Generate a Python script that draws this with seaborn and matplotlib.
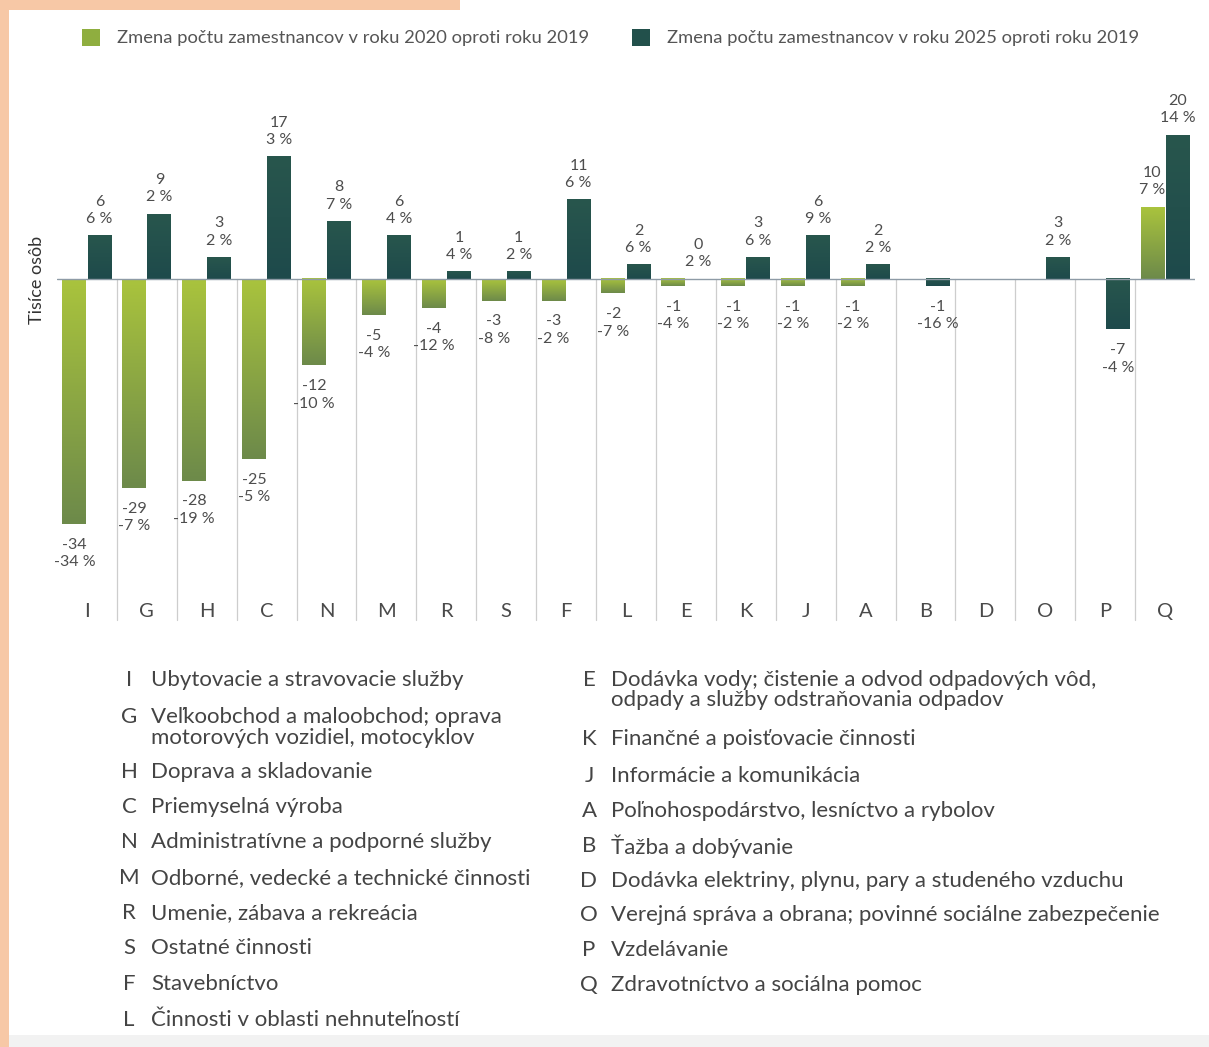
import numpy as np
import pandas as pd
import matplotlib
matplotlib.use("Agg")
import matplotlib.pyplot as plt
import seaborn as sns
from matplotlib.colors import LinearSegmentedColormap, to_hex
from matplotlib.patches import Rectangle

# ---- data -------------------------------------------------------------
kody = ["I", "G", "H", "C", "N", "M", "R", "S", "F", "L",
        "E", "K", "J", "A", "B", "D", "O", "P", "Q"]
zmena_2020 = [-34, -29, -28, -25, -12, -5, -4, -3, -3, -2,
              -1, -1, -1, -1, None, None, None, None, 10]
pct_2020 = [-34, -7, -19, -5, -10, -4, -12, -8, -2, -7,
            -4, -2, -2, -2, None, None, None, None, 7]
zmena_2025 = [6, 9, 3, 17, 8, 6, 1, 1, 11, 2,
              0, 3, 6, 2, -1, None, 3, -7, 20]
pct_2025 = [6, 2, 2, 3, 7, 4, 4, 2, 6, 6,
            2, 6, 9, 2, -16, None, 2, -4, 14]

serie = ["Zmena počtu zamestnancov v roku 2020 oproti roku 2019",
         "Zmena počtu zamestnancov v roku 2025 oproti roku 2019"]

popisy_vlavo = [
    ("I", ["Ubytovacie a stravovacie služby"]),
    ("G", ["Veľkoobchod a maloobchod; oprava", "motorových vozidiel, motocyklov"]),
    ("H", ["Doprava a skladovanie"]),
    ("C", ["Priemyselná výroba"]),
    ("N", ["Administratívne a podporné služby"]),
    ("M", ["Odborné, vedecké a technické činnosti"]),
    ("R", ["Umenie, zábava a rekreácia"]),
    ("S", ["Ostatné činnosti"]),
    ("F", ["Stavebníctvo"]),
    ("L", ["Činnosti v oblasti nehnuteľností"]),
]
popisy_vpravo = [
    ("E", ["Dodávka vody; čistenie a odvod odpadových vôd,", "odpady a služby odstraňovania odpadov"]),
    ("K", ["Finančné a poisťovacie činnosti"]),
    ("J", ["Informácie a komunikácia"]),
    ("A", ["Poľnohospodárstvo, lesníctvo a rybolov"]),
    ("B", ["Ťažba a dobývanie"]),
    ("D", ["Dodávka elektriny, plynu, pary a studeného vzduchu"]),
    ("O", ["Verejná správa a obrana; povinné sociálne zabezpečenie"]),
    ("P", ["Vzdelávanie"]),
    ("Q", ["Zdravotníctvo a sociálna pomoc"]),
]

# ---- style ------------------------------------------------------------
sns.set_theme(style="white")
plt.rcParams["font.family"] = ["Lato", "DejaVu Sans"]

ZELENA = "#8fae3f"
TMAVA = "#22504b"
TEXT = "#4d4d4d"
zelena_cmap = LinearSegmentedColormap.from_list("zel", ["#6d8a4a", "#a9c33d"])
tmava_cmap = LinearSegmentedColormap.from_list("tma", ["#1e4a4b", "#28564d"])

W, H = 1209, 1047
fig = plt.figure(figsize=(W / 100, H / 100), dpi=100)
fig.patch.set_facecolor("white")

# page background: peach edge, light band at the bottom
fig.patches.append(Rectangle((0, 0), 9 / W, 1, transform=fig.transFigure,
                             facecolor="#f7c8a6", edgecolor="none", zorder=-10))
fig.patches.append(Rectangle((0, 1 - 10 / H), 460 / W, 10 / H, transform=fig.transFigure,
                             facecolor="#f7c8a6", edgecolor="none", zorder=-10))
fig.patches.append(Rectangle((9 / W, 0), 1, 12 / H, transform=fig.transFigure,
                             facecolor="#f2f2f2", edgecolor="none", zorder=-10))

# ---- axes -------------------------------------------------------------
px_top, px_bot, px_zero = 95, 595, 279
unit = 7.2  # pixels per thousand persons
ax = fig.add_axes([57 / W, 1 - px_bot / H, (1195 - 57) / W, (px_bot - px_top) / H])
ax.set_facecolor("none")

rows = []
for k, a, b in zip(kody, zmena_2020, zmena_2025):
    if a is not None:
        rows.append((k, serie[0], a))
    if b is not None:
        rows.append((k, serie[1], b))
df = pd.DataFrame(rows, columns=["kod", "rok", "hodnota"])

sns.barplot(data=df, x="kod", y="hodnota", hue="rok", order=kody, hue_order=serie,
            palette=[ZELENA, TMAVA], saturation=1, width=0.84, gap=0.05,
            legend=False, ax=ax, zorder=3)

ylim = (-(px_bot - px_zero) / unit, (px_zero - px_top) / unit)
xlim = (-0.5, len(kody) - 0.5)

# gradient fill for each bar
for p in list(ax.patches):
    h = p.get_height()
    if h == 0 or np.isnan(h):
        continue
    x0 = p.get_x()
    x1 = x0 + p.get_width()
    y0, y1 = sorted([p.get_y(), p.get_y() + h])
    is_green = to_hex(p.get_facecolor()) == to_hex(ZELENA)
    cmap = zelena_cmap if is_green else tmava_cmap
    grad = np.linspace(1, 0, 64).reshape(-1, 1)
    ax.imshow(grad, extent=[x0, x1, y0, y1], origin="upper", aspect="auto",
              cmap=cmap, zorder=3, interpolation="bilinear")
    p.set_alpha(0)

ax.set_xlim(*xlim)
ax.set_ylim(*ylim)

# value labels: absolute change and relative change
dx = 0.21
for i, k in enumerate(kody):
    for off, v, pc in ((-dx, zmena_2020[i], pct_2020[i]), (dx, zmena_2025[i], pct_2025[i])):
        if v is None:
            continue
        txt = f"{v}\n{pc} %"
        if v >= 0:
            ax.annotate(txt, (i + off, v), xytext=(0, 7), textcoords="offset points",
                        ha="center", va="bottom", fontsize=11.5, color=TEXT,
                        linespacing=1.3, zorder=5)
        else:
            ax.annotate(txt, (i + off, v), xytext=(0, -10), textcoords="offset points",
                        ha="center", va="top", fontsize=11.5, color=TEXT,
                        linespacing=1.3, zorder=5)

# zero line and category separators
ax.axhline(0, color="#8e9ba6", lw=1.0, zorder=4)
y_zero_frac = (px_bot - px_zero) / (px_bot - px_top)
for j in range(len(kody) - 1):
    ax.axvline(j + 0.5, ymin=-0.05, ymax=y_zero_frac, color="#cdcdcd", lw=0.9,
               clip_on=False, zorder=1)

for s in ax.spines.values():
    s.set_visible(False)
ax.set_yticks([])
ax.set_xlabel("")
ax.set_ylabel("")
ax.tick_params(axis="x", length=0, pad=6, labelsize=14.5, labelcolor="#4a4a4a")

fig.text(37 / W, 1 - 280 / H, "Tisíce osôb", rotation=90, ha="center", va="center",
         fontsize=13, color="#333333")

# ---- series legend ----------------------------------------------------
for sx, tx, col, lab in ((82, 117, ZELENA, serie[0]), (632, 667, TMAVA, serie[1])):
    fig.patches.append(Rectangle((sx / W, 1 - 46 / H), 18 / W, 17 / H,
                                 transform=fig.transFigure, facecolor=col,
                                 edgecolor="none"))
    fig.text(tx / W, 1 - 38 / H, lab, ha="left", va="center", fontsize=13.2,
             color="#555555")

# ---- code key ---------------------------------------------------------
def kluc(polozky, x_kod, x_txt, riadky):
    for (kod, linky), ys in zip(polozky, riadky):
        fig.text(x_kod / W, 1 - ys[0] / H, kod, ha="center", va="center",
                 fontsize=16, color="#444444")
        for ln, yy in zip(linky, ys):
            fig.text(x_txt / W, 1 - yy / H, ln, ha="left", va="center",
                     fontsize=16, color="#444444")

kluc(popisy_vlavo, 129, 151,
     [(680,), (717, 738), (772,), (807,), (842,), (878,), (913,), (948,), (984,), (1020,)])
kluc(popisy_vpravo, 589, 611,
     [(680, 700), (739,), (776,), (811,), (846,), (881,), (915,), (950,), (985,)])

fig.savefig("out.png", dpi=100)
